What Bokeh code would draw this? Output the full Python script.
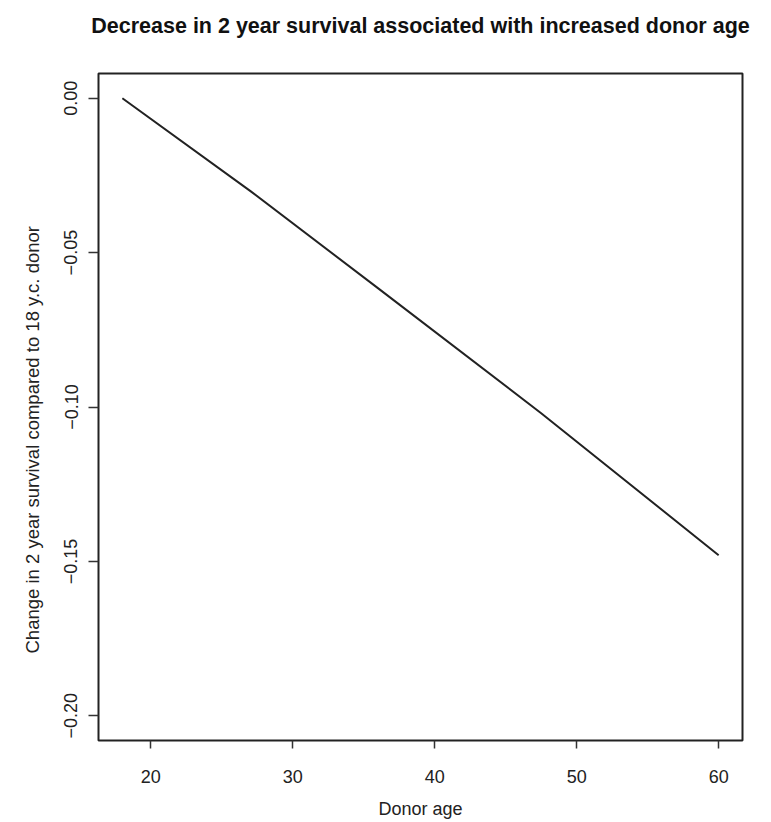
from bokeh.plotting import figure
from bokeh.models import FixedTicker, Range1d, Title
from bokeh.embed import file_html
from bokeh.resources import INLINE

# Data
donor_age = [18, 27, 36, 47.5, 60]
survival_change = [0.0, -0.030, -0.0615, -0.102, -0.148]
x_ticks = [20, 30, 40, 50, 60]
y_ticks = [0.00, -0.05, -0.10, -0.15, -0.20]
y_tick_labels = {0.0: "0.00", -0.05: "\u22120.05", -0.1: "\u22120.10", -0.15: "\u22120.15", -0.2: "\u22120.20"}
title_text = "Decrease in 2 year survival associated with increased donor age"
y_label_text = "Change in 2 year survival compared to 18 y.c. donor"
x_label_text = "Donor age"

FONT = "Liberation Sans"

p = figure(width=771, height=822, output_backend="svg", toolbar_location=None,
           x_range=Range1d(16.32, 61.68), y_range=Range1d(-0.208, 0.008),
           min_border_left=98, min_border_right=29, min_border_top=73, min_border_bottom=82,
           title=title_text)

p.line(donor_age, survival_change, line_color="#222222", line_width=2)

p.grid.visible = False
p.outline_line_color = "#222222"
p.outline_line_width = 2
p.background_fill_color = "white"
p.border_fill_color = "white"

# spacer between frame and title (inner "above" panel)
spacer = Title(text=" ", text_font_size="1px", standoff=22)
p.add_layout(spacer, "above")

p.title.text_font = FONT
p.title.text_font_size = "21.5px"
p.title.text_font_style = "bold"
p.title.text_color = "#111111"
p.title.align = "center"
p.title.standoff = 22

# y axis label as a left title so its position can be set precisely
ylab = Title(text=y_label_text, align="left", offset=87, standoff=37,
             text_font=FONT, text_font_size="18.5px", text_font_style="normal",
             text_color="#222222")
p.add_layout(ylab, "left")

for ax in (p.xaxis[0], p.yaxis[0]):
    ax.axis_line_color = None
    ax.major_tick_out = 8
    ax.major_tick_in = 0
    ax.major_tick_line_color = "#333333"
    ax.major_tick_line_width = 1.5
    ax.minor_tick_line_color = None
    ax.major_label_text_font = FONT
    ax.major_label_text_font_size = "18px"
    ax.major_label_text_color = "#222222"
    ax.axis_label_text_font = FONT
    ax.axis_label_text_font_size = "18px"
    ax.axis_label_text_font_style = "normal"
    ax.axis_label_text_color = "#222222"

p.xaxis.ticker = FixedTicker(ticks=x_ticks)
p.xaxis.major_label_standoff = 21
p.xaxis.axis_label = x_label_text
p.xaxis.axis_label_standoff = 13

p.yaxis.ticker = FixedTicker(ticks=y_ticks)
p.yaxis.major_label_overrides = y_tick_labels
p.yaxis.major_label_orientation = "vertical"
p.yaxis.major_tick_out = 10
p.yaxis.major_label_standoff = 11

open("out.html", "w").write(file_html(p, INLINE))
